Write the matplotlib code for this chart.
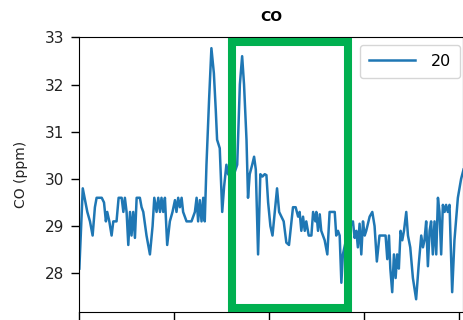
import matplotlib
matplotlib.use("Agg")
import matplotlib.pyplot as plt
import matplotlib.transforms as mtransforms
from matplotlib.patches import Rectangle

# ---- data ----
t = [0, 1.8, 3.0, 4.2, 5.6, 7.0, 8.2, 9.1, 11.8, 13.0, 14.0, 14.7, 15.8, 17.0, 17.9,
     19.6, 20.7, 22.3, 23.2, 24.0, 24.9, 25.8, 26.7, 27.5, 28.4, 29.3, 30.2, 31.9, 32.8,
     33.7, 35.4, 37.2, 38.6, 39.5, 40.7, 41.6, 42.5, 43.3, 44.2, 45.1, 46.3, 47.7, 49.1,
     50.4, 51.2, 52.1, 53.0, 53.9, 54.7, 56.5, 59.1, 60.9, 61.8, 62.6, 63.5, 64.4, 65.3,
     66.1, 67.0, 68.4, 69.6, 70.9, 71.9, 72.6, 74.0, 75.3, 76.3, 77.5, 78.4, 80.7, 83.2,
     84.6, 85.8, 86.8, 88.1, 88.9, 89.8, 91.1, 92.1, 93.0, 94.2, 95.4, 96.5, 97.7, 98.6,
     99.5, 100.7, 101.8, 103.0, 104.2, 105.3, 106.5, 107.7, 109.1, 110.5, 111.8, 112.6,
     114.0, 115.3, 116.1, 117.0, 117.9, 118.8, 119.6, 120.9, 122.3, 123.2, 124.4, 124.9,
     125.8, 126.7, 127.5, 129.3, 130.7, 131.9, 134.6, 135.4, 136.3, 137.2, 138.1, 138.9,
     141.6, 144.2, 145.1, 146.0, 146.8, 147.7, 148.6, 149.5, 150.4, 151.2, 153.0, 154.4,
     155.6, 156.8, 158.2, 160.0, 161.4, 162.3, 163.2, 163.9, 164.9, 165.8, 166.7, 167.5,
     168.4, 169.3, 170.2, 171.1, 172.3, 173.2, 174.4, 175.8, 177.5, 178.9, 180.2, 181.1,
     181.9, 182.8, 183.7, 184.6, 185.4, 186.3, 187.2, 188.1, 189.0, 189.8, 190.7, 191.6,
     192.5, 193.3, 194.2, 195.1, 196.5, 197.7, 199.5, 201.2, 202.5]

co = [28.1, 29.8, 29.55, 29.3, 29.1, 28.8, 29.4, 29.6, 29.6, 29.5, 29.1, 29.3, 29.1, 28.8, 29.1,
      29.1, 29.6, 29.6, 29.3, 29.6, 29.3, 28.6, 29.3, 28.8, 29.3, 28.75, 29.6, 29.6, 29.4,
      29.3, 28.8, 28.4, 29.0, 29.6, 29.3, 29.6, 29.3, 29.6, 29.3, 29.6, 28.6, 29.1, 29.3,
      29.55, 29.3, 29.6, 29.4, 29.6, 29.3, 29.1, 29.1, 29.3, 29.6, 29.1, 29.55, 29.1, 29.6,
      29.1, 30.3, 31.7, 32.77, 32.24, 31.46, 30.83, 30.65, 29.3, 29.84, 30.3, 30.1, 30.0, 30.3,
      32.0, 32.6, 32.0, 30.83, 29.6, 30.1, 30.3, 30.47, 30.2, 28.4, 30.1, 30.05, 30.1, 30.08,
      29.5, 29.0, 28.8, 29.3, 29.8, 29.3, 29.2, 29.1, 28.65, 28.6, 29.1, 29.4,
      29.4, 29.2, 29.3, 28.9, 29.2, 28.9, 29.1, 28.8, 28.8, 29.3, 29.1, 29.3,
      28.9, 29.25, 28.9, 28.7, 28.4, 29.3, 29.3, 28.8, 28.9, 28.8, 27.8, 28.4,
      28.9, 29.1, 28.75, 28.9, 28.55, 29.05, 28.4, 29.1, 28.8, 28.9, 29.2, 29.3,
      29.0, 28.25, 28.8, 28.8, 28.8, 28.3, 28.8, 28.1, 27.6, 28.4, 27.9, 28.4,
      28.1, 28.9, 28.7, 28.9, 29.3, 28.8, 28.55, 27.9, 27.45, 28.2, 28.8, 28.55,
      28.7, 29.1, 28.15, 28.9, 29.1, 28.4, 29.1, 28.4, 29.6, 29.3, 28.4, 29.45,
      29.3, 29.45, 29.3, 29.45, 27.6, 28.7, 29.6, 30.0, 30.2]

series_label = "20"
title = "CO"
ylabel = "CO (ppm)"
yticks = [28, 29, 30, 31, 32, 33]
xticks = [0, 50, 100, 150, 200]
highlight_start = 80.7
highlight_end = 141.6

# ---- figure ----
W, H = 464, 320
fig = plt.figure(figsize=(W / 100, H / 100), dpi=100)
ax = fig.add_axes([0.171, 0.025, 0.826, 0.8584])

ax.plot(t, co, color="#1f77b4", lw=1.8, label=series_label)
ax.set_xlim(0, 202)
ax.set_ylim(27.18, 33.0)
ax.set_yticks(yticks)
ax.set_xticks(xticks)
ax.set_xticklabels([])
ax.tick_params(axis="both", length=6, width=1, pad=5, labelsize=11, labelcolor="#222222")
ax.set_title(title, fontweight="bold", fontsize=10, pad=12)
ax.set_ylabel(ylabel, fontsize=10, labelpad=12, color="#222222")
leg = ax.legend(loc="upper right", bbox_to_anchor=(460 / W, 1 - 45.3 / H),
                bbox_transform=fig.transFigure, borderaxespad=0,
                fontsize=11.5, handlelength=2.9, handletextpad=1.0, borderpad=0.55)

trans = mtransforms.blended_transform_factory(ax.transData, ax.transAxes)
rect = Rectangle((highlight_start, 0.0146), highlight_end - highlight_start, 0.97,
                 transform=trans, fill=False, edgecolor="#00B050", lw=5.8, zorder=3,
                 clip_on=False)
ax.add_patch(rect)

fig.savefig("out.png", dpi=100)
